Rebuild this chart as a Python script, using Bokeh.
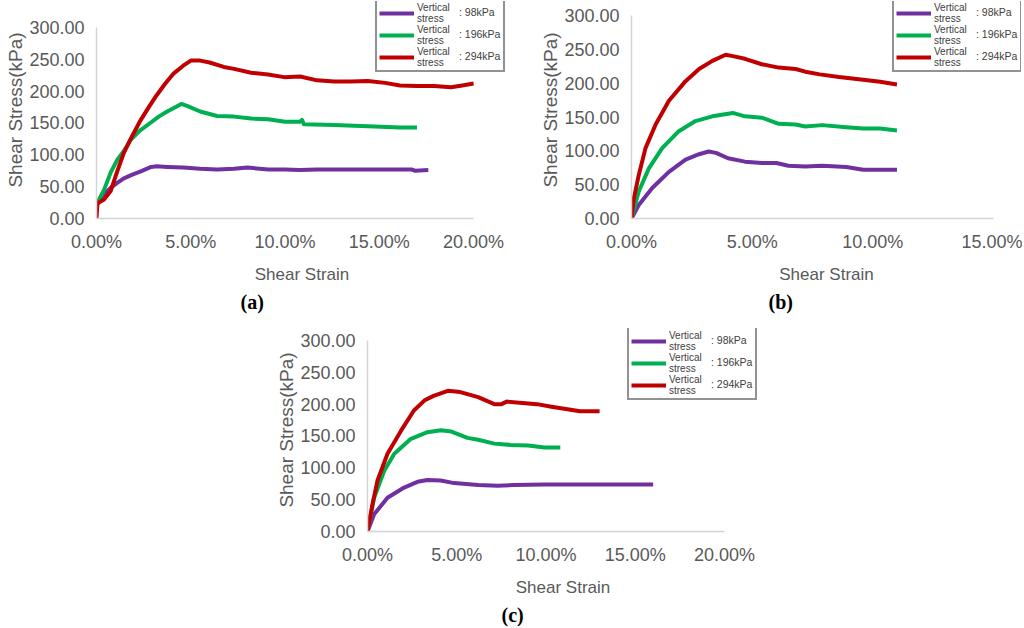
from bokeh.embed import file_html
from bokeh.layouts import column, row
from bokeh.models import (ColumnDataSource, FixedTicker, Legend, LegendItem,
                          PrintfTickFormatter, Range1d, Title)
from bokeh.plotting import figure
from bokeh.resources import INLINE

# shear strain (%) / shear stress (kPa)
a98_x = [0, 0.4, 0.75, 1.1, 1.45, 1.9, 2.35, 2.9, 3.2, 3.75, 4.6, 5.5, 6.4, 7.3, 8.0, 9.1, 10.0, 10.8,
         11.7, 12.6, 13.5, 14.4, 15.3, 16.2, 16.7, 16.9, 17.6]
a98_y = [20, 38, 48, 56, 63, 69, 74, 81, 82, 81, 80, 78, 77, 78, 80, 77, 77, 76,
         77, 77, 77, 77, 77, 77, 77, 75, 76]
a196_x = [0, 0.4, 0.75, 1.1, 1.45, 1.8, 2.3, 2.85, 3.3, 3.75, 4.2, 4.5, 4.8, 5.5, 6.4, 7.3, 8.2, 9.1,
          10.0, 10.8, 10.9, 11.0, 12.6, 14.4, 16.1, 17.0]
a196_y = [22, 45, 72, 92, 106, 123, 138, 150, 160, 168, 175, 180, 177, 168, 161, 160, 157, 156,
          152, 152, 155, 148, 147, 145, 143, 143]
a294_x = [0, 0.05, 0.4, 0.75, 1.1, 1.45, 1.9, 2.35, 2.8, 3.2, 3.65, 4.1, 4.6, 5.0, 5.5, 6.0, 6.75,
          7.3, 8.2, 9.1, 9.95, 10.8, 11.7, 12.6, 13.5, 14.4, 15.3, 16.1, 17.0, 17.9, 18.8, 19.4, 20.0]
a294_y = [0, 24, 30, 43, 74, 103, 130, 155, 176, 194, 212, 228, 240, 248, 248, 245, 238,
          235, 229, 226, 222, 223, 217, 215, 215, 216, 213, 209, 208, 208, 206, 209, 212]

b98_x = [0, 0.3, 0.86, 1.55, 2.24, 2.8, 3.2, 3.5, 4.0, 4.7, 5.4, 6.0, 6.5, 7.2, 7.9, 8.9, 9.6, 10.3, 11.0]
b98_y = [0, 20, 45, 69, 87, 95, 99, 97, 89, 84, 82, 82, 78, 77, 78, 76, 72, 72, 72]
b196_x = [0, 0.3, 0.72, 1.27, 1.96, 2.65, 3.35, 4.2, 4.7, 5.4, 6.1, 6.8, 7.2, 7.9, 8.9, 9.6, 10.3, 11.0]
b196_y = [0, 40, 74, 104, 129, 144, 151, 156, 151, 149, 140, 139, 136, 138, 135, 133, 133, 130]
b294_x = [0, 0.1, 0.3, 0.58, 1.0, 1.55, 2.24, 2.8, 3.35, 3.9, 4.2, 4.7, 5.4, 6.1, 6.8, 7.2, 7.8,
          8.6, 9.6, 10.3, 11.0]
b294_y = [0, 30, 64, 104, 139, 174, 203, 221, 233, 242, 240, 236, 228, 223, 221, 217, 213,
          209, 205, 202, 198]

c98_x = [0, 0.37, 1.12, 2.05, 2.8, 3.36, 4.1, 4.85, 6.2, 7.3, 8.2, 9.9, 11.8, 13.6, 16.0]
c98_y = [0, 27, 53, 69, 78, 81, 80, 76, 73, 72, 73, 74, 74, 74, 74]
c196_x = [0, 0.37, 0.93, 1.5, 2.4, 3.36, 4.1, 4.7, 5.6, 6.2, 7.1, 8.0, 9.0, 9.9, 10.8]
c196_y = [0, 53, 95, 122, 145, 156, 159, 157, 147, 144, 138, 136, 135, 132, 132]
c294_x = [0, 0.28, 0.56, 1.12, 1.87, 2.6, 3.2, 3.7, 4.5, 5.2, 6.2, 7.1, 7.5, 7.8, 9.0, 9.5, 10.3,
          11.2, 11.9, 13.0]
c294_y = [0, 43, 80, 122, 158, 190, 206, 213, 221, 219, 211, 200, 200, 204, 201, 200, 196,
          192, 189, 189]

series_names = [": 98kPa", ": 196kPa", ": 294kPa"]
series_colors = ["#7030A0", "#00B050", "#C00000"]
y_ticks = [0, 50, 100, 150, 200, 250, 300]

GRAY = "#595959"
FONT = "Liberation Sans"
ROW_H = 22  # height of one legend row
PAD = 2


def make_panel(curves, x_axis_max, view, caption, caption_offset, width, height, borders, legend_xy):
    # view: visible range slightly larger than the axes, so the legend fits inside the frame
    x_view, y_view = view
    left, right, top, bottom = borders
    p = figure(width=width, height=height, output_backend="svg", toolbar_location=None,
               x_range=Range1d(0, x_view), y_range=Range1d(0, y_view),
               min_border_left=left, min_border_right=right,
               min_border_top=top, min_border_bottom=bottom,
               x_axis_label="Shear Strain", y_axis_label="Shear Stress(kPa)")
    p.outline_line_color = None
    p.grid.grid_line_color = None

    p.xaxis.ticker = FixedTicker(ticks=list(range(0, x_axis_max + 1, 5)))
    p.xaxis.formatter = PrintfTickFormatter(format="%.2f%%")
    p.xaxis.bounds = (0, x_axis_max)
    p.yaxis.ticker = FixedTicker(ticks=y_ticks)
    p.yaxis.formatter = PrintfTickFormatter(format="%.2f")
    p.yaxis.bounds = (0, 300)
    for ax in (p.xaxis, p.yaxis):
        ax.axis_line_color = "#D4D4D4"
        ax.axis_line_width = 1.5
        ax.major_tick_line_color = None
        ax.minor_tick_line_color = None
        ax.major_tick_out = 0
        ax.major_tick_in = 0
        ax.minor_tick_out = 0
        ax.major_label_text_font = FONT
        ax.major_label_text_font_size = "18px"
        ax.major_label_text_color = GRAY
        ax.axis_label_text_font = FONT
        ax.axis_label_text_font_style = "normal"
        ax.axis_label_text_color = GRAY
    p.xaxis.major_label_standoff = 13
    p.xaxis.axis_label_standoff = 10
    p.xaxis.axis_label_text_font_size = "17px"
    p.yaxis.major_label_standoff = 12
    p.yaxis.axis_label_standoff = 0
    p.yaxis.axis_label_text_font_size = "19px"

    items, values = [], []
    for (xs, ys), color, name in zip(curves, series_colors, series_names):
        src = ColumnDataSource(data=dict(x=xs, y=ys))
        r = p.line("x", "y", source=src, line_color=color, line_width=4, line_join="round")
        items.append(LegendItem(label="Vertical\nstress", renderers=[r]))
        values.append(LegendItem(label=name, renderers=[r]))

    lx, ly = legend_xy
    common = dict(margin=0, padding=PAD, spacing=0, glyph_height=ROW_H, label_height=ROW_H,
                  label_text_font=FONT, label_text_color="#404040")
    legend = Legend(items=items, location=(lx, ly), glyph_width=35, label_width=84,
                    label_standoff=3, label_text_line_height=0.85, label_text_font_size="10px",
                    border_line_color="#262626", border_line_width=2,
                    background_fill_alpha=1.0, **common)
    p.add_layout(legend, "center")

    # second column of the legend: the ": 98kPa" texts, without their own swatch
    value_legend = Legend(items=values, location=(lx + 84, ly + 5), glyph_width=0, label_width=40,
                          label_standoff=0, label_text_font_size="10.5px", border_line_color=None,
                          background_fill_alpha=0.0, **common)
    p.add_layout(value_legend, "center")

    p.add_layout(Title(text=caption, align="left", offset=caption_offset, standoff=4,
                       text_font="Liberation Serif", text_font_style="bold",
                       text_font_size="20px", text_color="black"), "below")
    return p


pa = make_panel([(a98_x, a98_y), (a196_x, a196_y), (a294_x, a294_y)], 20, (21.8, 340.8),
                "(a)", 144, 512, 314, (96, 5, 1, 96), (279, 146))
pb = make_panel([(b98_x, b98_y), (b196_x, b196_y), (b294_x, b294_y)], 15, (16.16, 320.7),
                "(b)", 137, 510, 314, (119, 1, 1, 96), (261, 146))
pc = make_panel([(c98_x, c98_y), (c196_x, c196_y), (c294_x, c294_y)], 20, (21.9, 318.8),
                "(c)", 134, 760, 313, (367, 2, 14, 96), (260, 131))

layout = column(row(pa, pb, spacing=0), pc, spacing=0)

open("out.html", "w").write(file_html(layout, INLINE))
